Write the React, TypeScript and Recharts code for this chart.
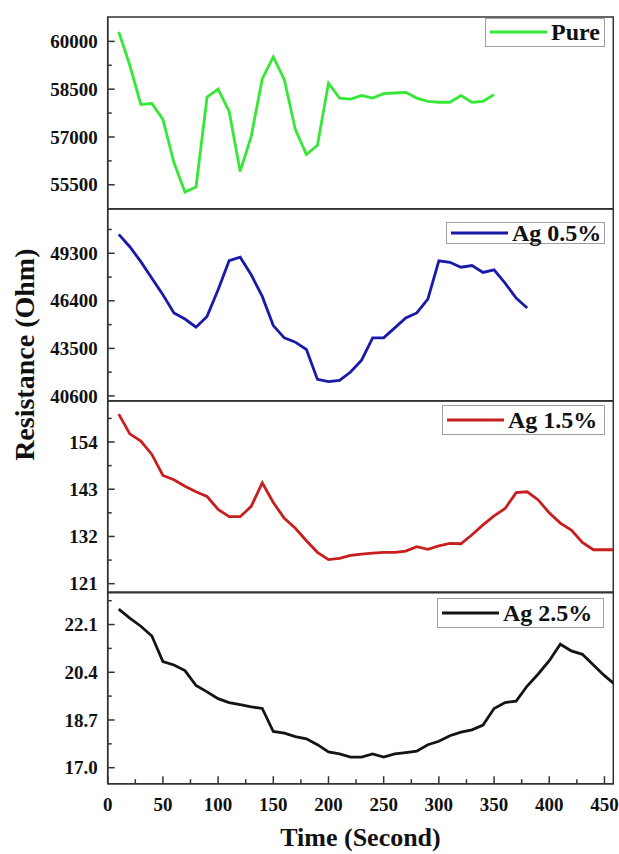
import React from 'react';
import { LineChart, Line, XAxis, YAxis, ReferenceArea, Legend } from 'recharts';

// time axis (seconds)
const times = [
  10, 20, 30, 40, 50, 60, 70, 80, 90, 100, 110, 120, 130, 140, 150, 160, 170, 180, 190, 200, 210, 220, 230,
  240, 250, 260, 270, 280, 290, 300, 310, 320, 330, 340, 350, 360, 370, 380, 390, 400, 410, 420, 430, 440,
  450, 460,
];

// resistance readings, one list per sample
const pure = [
  60300, 59250, 58020, 58050, 57550, 56200, 55270, 55430, 58250, 58500, 57800, 55920, 57020, 58820, 59510,
  58800, 57230, 56450, 56740, 58690, 58220, 58190, 58300, 58220, 58360, 58380, 58400, 58220, 58120, 58090,
  58090, 58300, 58090, 58120, 58330,
];
const ag05 = [
  50450, 49700, 48790, 47780, 46770, 45660, 45290, 44790, 45450, 47070, 48850, 49060, 47990, 46670, 44890,
  44140, 43880, 43430, 41610, 41470, 41550, 42060, 42780, 44140, 44140, 44750, 45350, 45660, 46510, 48840,
  48750, 48450, 48550, 48130, 48290, 47480, 46570, 45960,
];
const ag15 = [
  160.5, 155.9, 154.2, 151.1, 146.2, 145.2, 143.7, 142.4, 141.3, 138.3, 136.6, 136.6, 139.0, 144.5, 139.9,
  136.2, 133.9, 131.0, 128.3, 126.6, 126.9, 127.6, 127.9, 128.1, 128.3, 128.3, 128.6, 129.6, 129.0, 129.8,
  130.4, 130.3, 132.4, 134.7, 136.8, 138.5, 142.2, 142.4, 140.5, 137.5, 135.1, 133.5, 130.6, 128.9, 128.9,
  128.9,
];
const ag25 = [
  22.65, 22.33, 22.04, 21.69, 20.78, 20.66, 20.46, 19.93, 19.7, 19.46, 19.32, 19.25, 19.17, 19.11, 18.29,
  18.23, 18.11, 18.03, 17.82, 17.56, 17.49, 17.38, 17.38, 17.49, 17.38, 17.49, 17.54, 17.59, 17.82, 17.94,
  18.14, 18.27, 18.35, 18.52, 19.11, 19.32, 19.37, 19.91, 20.34, 20.81, 21.4, 21.16, 21.04, 20.66, 20.28,
  19.95,
];

// tick values
const xTicks = [0, 25, 50, 75, 100, 125, 150, 175, 200, 225, 250, 275, 300, 325, 350, 375, 400, 425, 450];
const xLabels = [0, 50, 100, 150, 200, 250, 300, 350, 400, 450];
const pureTicks = [55500, 56250, 57000, 57750, 58500, 59250, 60000];
const pureLabels = [55500, 57000, 58500, 60000];
const ag05Ticks = [40600, 42050, 43500, 44950, 46400, 47850, 49300, 50750];
const ag05Labels = [40600, 43500, 46400, 49300];
const ag15Ticks = [121, 126.5, 132, 137.5, 143, 148.5, 154, 159.5];
const ag15Labels = [121, 132, 143, 154];
const ag25Ticks = [17.0, 17.85, 18.7, 19.55, 20.4, 21.25, 22.1, 22.95];
const ag25Labels = [17.0, 18.7, 20.4, 22.1];

const FONT = '"Liberation Serif", "Times New Roman", serif';
const AXIS = '#333';
const W = 619;
const PLOT_LEFT = 107.7;
const PLOT_RIGHT = 613.3;
const PLOT_H = 191.7;
const MT = 4;
const MB = 12;
const X_MAX = 458;

const panels = [
  {
    name: 'Pure', color: '#36e836', values: pure, ticks: pureTicks, labels: pureLabels, digits: 0,
    domain: [54750, 60765], top: 17.3, legend: { left: 485, top: 18, w: 120, h: 29 },
  },
  {
    name: 'Ag 0.5%', color: '#1919aa', values: ag05, ticks: ag05Ticks, labels: ag05Labels, digits: 0,
    domain: [40310, 52000], top: 209, legend: { left: 446, top: 222, w: 159, h: 22 },
  },
  {
    name: 'Ag 1.5%', color: '#c81e1e', values: ag15, ticks: ag15Ticks, labels: ag15Labels, digits: 0,
    domain: [118.9, 163.55], top: 400.7, legend: { left: 442, top: 405, w: 163, h: 30 },
  },
  {
    name: 'Ag 2.5%', color: '#141414', values: ag25, ticks: ag25Ticks, labels: ag25Labels, digits: 1,
    domain: [16.43, 23.26], top: 592.3, legend: { left: 437, top: 598, w: 167, h: 30 },
  },
];

const makeXTick = (showLabel: boolean) => (props: any) => {
  const { x, y, payload } = props;
  const major = xLabels.includes(payload.value);
  return (
    <g>
      <line x1={x} x2={x} y1={y} y2={y - (major ? 7.5 : 4.5)} stroke={AXIS} strokeWidth={1.5} />
      {showLabel && major && (
        <text x={x} y={y + 27} textAnchor="middle" fontFamily={FONT} fontWeight="bold" fontSize={19} fill="#111">
          {payload.value}
        </text>
      )}
    </g>
  );
};

const makeYTick = (labels: number[], digits: number) => (props: any) => {
  const { x, y, payload } = props;
  const major = labels.some(l => Math.abs(l - payload.value) < 1e-6);
  return (
    <g>
      <line x1={x} x2={x + (major ? 7 : 4)} y1={y} y2={y} stroke={AXIS} strokeWidth={1.5} />
      {major && (
        <text x={x - 10} y={y} dy="0.35em" textAnchor="end" fontFamily={FONT} fontWeight="bold" fontSize={19} fill="#111">
          {payload.value.toFixed(digits)}
        </text>
      )}
    </g>
  );
};

const LegendBox = ({ name, color, h }: { name: string; color: string; h: number }) => (
  <div
    style={{
      height: h,
      boxSizing: 'border-box',
      border: '1px solid #a0a0a0',
      background: '#fff',
      display: 'flex',
      alignItems: 'center',
      paddingLeft: 4,
    }}
  >
    <svg width={57} height={6} style={{ display: 'block' }}>
      <line x1={0} y1={3} x2={57} y2={3} stroke={color} strokeWidth={2.8} />
    </svg>
    <span
      style={{
        marginLeft: 4,
        fontFamily: FONT,
        fontWeight: 'bold',
        fontSize: 24,
        lineHeight: '24px',
        color: '#111',
        whiteSpace: 'nowrap',
      }}
    >
      {name}
    </span>
  </div>
);

export default function App() {
  return (
    <div style={{ position: 'absolute', left: 0, top: 0, width: W, height: 854, overflow: 'hidden' }}>
      {panels.map((p, i) => {
        const last = i === panels.length - 1;
        const data = p.values.map((v, j) => ({ t: times[j], v }));
        const chartTop = p.top - MT;
        return (
          <div
            key={p.name}
            style={{ position: 'absolute', left: 0, top: chartTop, width: W, zIndex: panels.length - i }}
          >
            <LineChart
              width={W}
              height={MT + PLOT_H + (last ? 70 : MB)}
              data={data}
              margin={{ top: MT, right: W - PLOT_RIGHT, bottom: last ? 0 : MB, left: 0 }}
            >
              <XAxis
                dataKey="t"
                type="number"
                domain={[0, X_MAX]}
                allowDataOverflow
                ticks={xTicks}
                interval={0}
                tickSize={0}
                tickMargin={0}
                height={last ? 70 : 0}
                axisLine={{ stroke: AXIS, strokeWidth: 1.5 }}
                tick={makeXTick(last)}
                label={
                  last
                    ? {
                        value: 'Time (Second)',
                        position: 'insideBottom',
                        offset: 7.5,
                        fill: '#111',
                        fontFamily: FONT,
                        fontWeight: 'bold',
                        fontSize: 26,
                      }
                    : undefined
                }
              />
              <YAxis
                type="number"
                domain={p.domain}
                allowDataOverflow
                ticks={p.ticks}
                interval={0}
                width={PLOT_LEFT}
                tickSize={0}
                tickMargin={0}
                axisLine={{ stroke: AXIS, strokeWidth: 1.5 }}
                tick={makeYTick(p.labels, p.digits)}
              />
              <ReferenceArea
                x1={0}
                x2={X_MAX}
                y1={p.domain[0]}
                y2={p.domain[1]}
                fill="none"
                fillOpacity={0}
                stroke={AXIS}
                strokeWidth={1.5}
                ifOverflow="visible"
              />
              <Line
                type="linear"
                dataKey="v"
                stroke={p.color}
                strokeWidth={2.8}
                dot={false}
                activeDot={false}
                isAnimationActive={false}
              />
              <Legend
                layout="vertical"
                align="center"
                verticalAlign="middle"
                wrapperStyle={{
                  top: p.legend.top - chartTop,
                  left: p.legend.left,
                  width: p.legend.w,
                  height: p.legend.h,
                }}
                content={() => <LegendBox name={p.name} color={p.color} h={p.legend.h} />}
              />
            </LineChart>
          </div>
        );
      })}
      <svg width={60} height={854} style={{ position: 'absolute', left: 0, top: 0, zIndex: 10 }}>
        <text
          x={33.6}
          y={354.7}
          transform="rotate(-90 33.6 354.7)"
          textAnchor="middle"
          fontFamily={FONT}
          fontWeight="bold"
          fontSize={28}
          fill="#111"
        >
          Resistance (Ohm)
        </text>
      </svg>
    </div>
  );
}
